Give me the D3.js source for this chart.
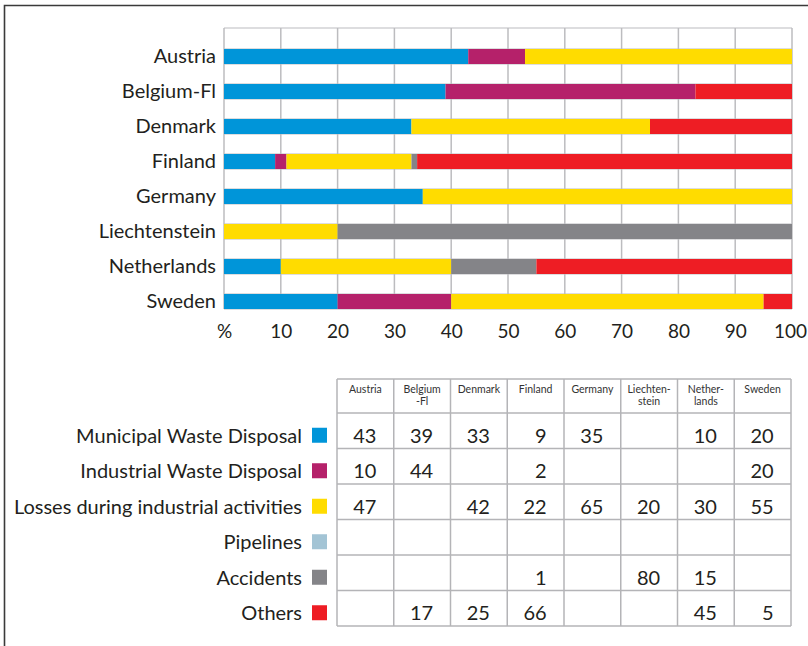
<!DOCTYPE html>
<html>
<head>
<meta charset="utf-8">
<script src="https://cdn.jsdelivr.net/npm/d3@7"></script>
<style>
  html, body { margin: 0; padding: 0; background: #fff; }
  svg { display: block; font-family: Lato, "Open Sans", sans-serif; }
</style>
</head>
<body>
<svg id="chart" width="808" height="646"></svg>
<script>
// Sources of soil contamination, share (%) by country
const countries = ["Austria", "Belgium-Fl", "Denmark", "Finland", "Germany", "Liechtenstein", "Netherlands", "Sweden"];
const tableHeaders = [["Austria"], ["Belgium", "-Fl"], ["Denmark"], ["Finland"], ["Germany"], ["Liechten-", "stein"], ["Nether-", "lands"], ["Sweden"]];
const sources = ["Municipal Waste Disposal", "Industrial Waste Disposal", "Losses during industrial activities", "Pipelines", "Accidents", "Others"];
const sourceColors = ["#0095d9", "#b5216a", "#ffdc00", "#a3c4d5", "#848488", "#ee1d24"];

const municipal  = [43, 39, 33, 9, 35, null, 10, 20];
const industrial = [10, 44, null, 2, null, null, null, 20];
const losses     = [47, null, 42, 22, 65, 20, 30, 55];
const pipelines  = [null, null, null, null, null, null, null, null];
const accidents  = [null, null, null, 1, null, 80, 15, null];
const others     = [null, 17, 25, 66, null, null, 45, 5];
const seriesValues = [municipal, industrial, losses, pipelines, accidents, others];

const xTicks = [0, 10, 20, 30, 40, 50, 60, 70, 80, 90, 100];

const svg = d3.select("#chart");
const textColor = "#231f20";
const gridColor = "#bcbcbf";
const labelFont = 20;

// outer frame (top and left edges)
svg.append("path")
  .attr("d", "M4.5,646 V5.5 H808")
  .attr("fill", "none")
  .attr("stroke", "#3a3a3a")
  .attr("stroke-width", 1.6);

// ---------- stacked bar chart ----------
const x = d3.scaleLinear().domain([0, 100]).range([224, 792]);
const y = d3.scaleBand().domain(countries).range([39, 319])
  .paddingInner(20 / 35).paddingOuter(10 / 35);
const gridTop = 28, gridBottom = y(countries[countries.length - 1]) + y.bandwidth();

const grid = svg.append("g");
grid.selectAll("line.v").data(xTicks).join("line")
  .attr("x1", d => x(d)).attr("x2", d => x(d))
  .attr("y1", gridTop).attr("y2", gridBottom)
  .attr("stroke", gridColor).attr("stroke-width", 1.5);
const hLines = [gridTop];
countries.forEach(c => { hLines.push(y(c)); hLines.push(y(c) + y.bandwidth()); });
grid.selectAll("line.h").data(hLines).join("line")
  .attr("x1", x(0)).attr("x2", x(100))
  .attr("y1", d => d).attr("y2", d => d)
  .attr("stroke", gridColor).attr("stroke-width", 1.2);

// stack the series per country
const rows = countries.map((c, i) => {
  const r = { country: c };
  sources.forEach((s, k) => { r[s] = seriesValues[k][i] || 0; });
  return r;
});
const stacked = d3.stack().keys(sources)(rows);

svg.append("g").selectAll("g").data(stacked).join("g")
  .attr("fill", (d, k) => sourceColors[k])
  .selectAll("rect").data(d => d.filter(p => p[1] > p[0])).join("rect")
  .attr("x", p => x(p[0]))
  .attr("width", p => x(p[1]) - x(p[0]))
  .attr("y", p => y(p.data.country))
  .attr("height", y.bandwidth());

// country labels
const yAxis = svg.append("g")
  .attr("transform", `translate(${x(0)},0)`)
  .call(d3.axisLeft(y).tickSize(0).tickPadding(8));
yAxis.select(".domain").remove();
yAxis.selectAll("text")
  .attr("font-size", labelFont).attr("font-family", "Lato, sans-serif")
  .attr("fill", textColor).attr("dy", "0.34em");

// percentage axis
const xAxis = svg.append("g")
  .attr("transform", `translate(0,${gridBottom})`)
  .call(d3.axisBottom(x).tickValues(xTicks).tickSize(0)
    .tickFormat(d => d === 0 ? "%" : d));
xAxis.select(".domain").remove();
xAxis.selectAll("text")
  .attr("font-size", 19).attr("font-family", "Lato, sans-serif")
  .attr("fill", textColor).attr("y", 29).attr("dy", 0);
// the last label sits against the right edge
xAxis.selectAll(".tick").filter(d => d === 100).select("text").attr("x", -2);

// ---------- data table with legend ----------
const col = d3.scaleBand().domain(countries).range([337, 791]);
const headTop = 379, headBottom = 413;
const row = d3.scaleBand().domain(sources).range([headBottom, 626]);

const table = svg.append("g");
const tableLineColor = "#b4b4b7";
// horizontal rules
const tRules = [headTop, headBottom].concat(sources.map(s => row(s) + row.bandwidth()));
table.selectAll("line.h").data(tRules).join("line")
  .attr("x1", col.range()[0]).attr("x2", col.range()[1])
  .attr("y1", d => d).attr("y2", d => d)
  .attr("stroke", tableLineColor).attr("stroke-width", 1.5);
// vertical rules
const vRules = countries.map(c => col(c)).concat([col.range()[1]]);
table.selectAll("line.v").data(vRules).join("line")
  .attr("x1", d => d).attr("x2", d => d)
  .attr("y1", headTop).attr("y2", 626)
  .attr("stroke", tableLineColor).attr("stroke-width", 1.5);

// column headers, one text per line
const headLines = [];
tableHeaders.forEach((lines, i) => lines.forEach((t, j) => headLines.push({ t, j, country: countries[i] })));
table.selectAll("text.head").data(headLines).join("text")
  .attr("x", d => col(d.country) + col.bandwidth() / 2)
  .attr("y", d => headTop + 14 + d.j * 11.5)
  .attr("text-anchor", "middle")
  .attr("font-size", 10.5).attr("font-family", "Lato, sans-serif")
  .attr("fill", "#333")
  .text(d => d.t);

// legend labels and swatches
table.selectAll("text.src").data(sources).join("text")
  .attr("x", 302)
  .attr("y", s => row(s) + row.bandwidth() / 2 + 12)
  .attr("text-anchor", "end")
  .attr("font-size", labelFont).attr("font-family", "Lato, sans-serif")
  .attr("fill", textColor)
  .text(s => s);
table.selectAll("rect.sw").data(sources).join("rect")
  .attr("x", 312)
  .attr("y", s => row(s) + row.bandwidth() / 2 - 3)
  .attr("width", 15).attr("height", 15)
  .attr("fill", (s, k) => sourceColors[k]);

// cell values: keep the column index with each value
sources.forEach((s, k) => {
  const cells = seriesValues[k]
    .map((v, i) => ({ v, country: countries[i] }))
    .filter(d => d.v != null);
  table.append("g").selectAll("text").data(cells).join("text")
    .attr("x", d => col(d.country) + col.bandwidth() / 2 + 11)
    .attr("y", row(s) + row.bandwidth() / 2 + 12)
    .attr("text-anchor", "end")
    .attr("font-size", labelFont).attr("font-family", "Lato, sans-serif")
    .attr("fill", textColor)
    .text(d => d.v);
});
</script>
</body>
</html>
